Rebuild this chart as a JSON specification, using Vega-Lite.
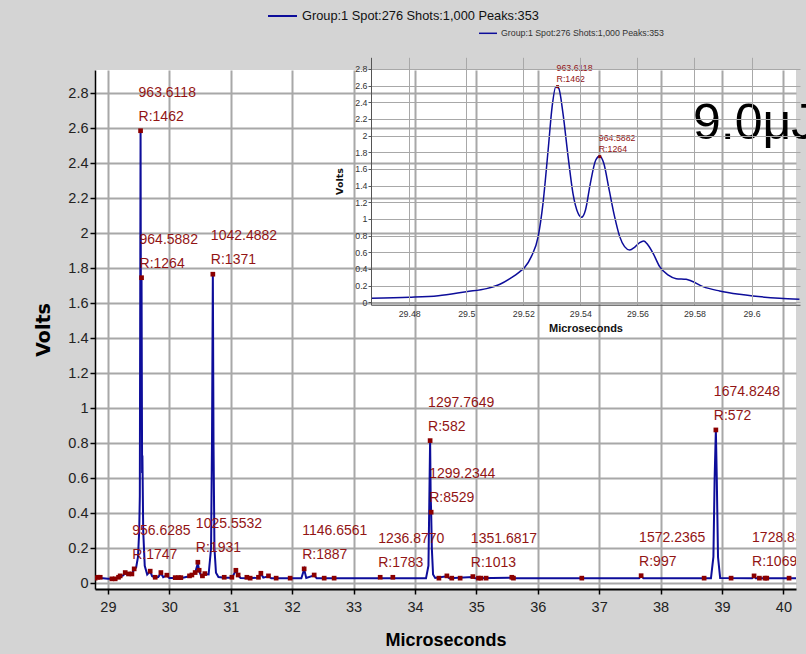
{
  "$schema": "https://vega.github.io/schema/vega-lite/v6.json",
  "width": 701,
  "height": 519,
  "autosize": {"type": "none"},
  "padding": {"left": 95, "top": 70, "right": 10, "bottom": 65},
  "background": "#d4d4d4",
  "config": {"view": {"stroke": null, "fill": "white"}, "font": "Liberation Sans"},
  "datasets": {
    "main": [
      {"t": 28.79, "v": 0.028}, {"t": 28.84, "v": 0.032}, {"t": 28.88, "v": 0.03}, {"t": 29.0, "v": 0.026},
      {"t": 29.1, "v": 0.026}, {"t": 29.17, "v": 0.032}, {"t": 29.2, "v": 0.04}, {"t": 29.25, "v": 0.045},
      {"t": 29.28, "v": 0.058}, {"t": 29.31, "v": 0.05}, {"t": 29.34, "v": 0.052}, {"t": 29.39, "v": 0.053},
      {"t": 29.43, "v": 0.08}, {"t": 29.46, "v": 0.09}, {"t": 29.49, "v": 0.15}, {"t": 29.51, "v": 0.3},
      {"t": 29.52, "v": 0.5}, {"t": 29.532, "v": 2.586}, {"t": 29.54, "v": 1.02}, {"t": 29.548, "v": 1.746},
      {"t": 29.557, "v": 0.63}, {"t": 29.562, "v": 0.73}, {"t": 29.575, "v": 0.3}, {"t": 29.6, "v": 0.1},
      {"t": 29.64, "v": 0.05}, {"t": 29.689, "v": 0.068}, {"t": 29.72, "v": 0.04}, {"t": 29.77, "v": 0.033},
      {"t": 29.82, "v": 0.035}, {"t": 29.863, "v": 0.058}, {"t": 29.9, "v": 0.035}, {"t": 29.96, "v": 0.045},
      {"t": 30.0, "v": 0.03}, {"t": 30.1, "v": 0.03}, {"t": 30.2, "v": 0.03}, {"t": 30.33, "v": 0.04},
      {"t": 30.37, "v": 0.046}, {"t": 30.42, "v": 0.058}, {"t": 30.465, "v": 0.115}, {"t": 30.486, "v": 0.07},
      {"t": 30.52, "v": 0.04}, {"t": 30.58, "v": 0.052}, {"t": 30.64, "v": 0.05}, {"t": 30.68, "v": 0.2},
      {"t": 30.695, "v": 0.8}, {"t": 30.709, "v": 1.766}, {"t": 30.72, "v": 0.8}, {"t": 30.735, "v": 0.2},
      {"t": 30.76, "v": 0.06}, {"t": 30.8, "v": 0.035}, {"t": 30.9, "v": 0.032}, {"t": 31.02, "v": 0.032},
      {"t": 31.084, "v": 0.072}, {"t": 31.121, "v": 0.045}, {"t": 31.16, "v": 0.03}, {"t": 31.3, "v": 0.028},
      {"t": 31.45, "v": 0.032}, {"t": 31.491, "v": 0.055}, {"t": 31.53, "v": 0.032}, {"t": 31.615, "v": 0.04},
      {"t": 31.66, "v": 0.028}, {"t": 32.15, "v": 0.028}, {"t": 32.196, "v": 0.08}, {"t": 32.23, "v": 0.03},
      {"t": 32.359, "v": 0.045}, {"t": 32.4, "v": 0.028}, {"t": 33.4, "v": 0.028}, {"t": 33.434, "v": 0.033},
      {"t": 33.47, "v": 0.028}, {"t": 34.18, "v": 0.028}, {"t": 34.22, "v": 0.1}, {"t": 34.235, "v": 0.5},
      {"t": 34.247, "v": 0.815}, {"t": 34.256, "v": 0.5}, {"t": 34.264, "v": 0.406}, {"t": 34.275, "v": 0.2},
      {"t": 34.295, "v": 0.05}, {"t": 34.33, "v": 0.03}, {"t": 34.52, "v": 0.04}, {"t": 34.56, "v": 0.028},
      {"t": 34.943, "v": 0.036}, {"t": 34.98, "v": 0.028}, {"t": 35.578, "v": 0.032}, {"t": 35.62, "v": 0.028},
      {"t": 37.65, "v": 0.028}, {"t": 37.683, "v": 0.042}, {"t": 37.72, "v": 0.028}, {"t": 38.82, "v": 0.028},
      {"t": 38.86, "v": 0.15}, {"t": 38.88, "v": 0.6}, {"t": 38.9, "v": 0.876}, {"t": 38.915, "v": 0.6},
      {"t": 38.935, "v": 0.15}, {"t": 38.97, "v": 0.03}, {"t": 39.49, "v": 0.028}, {"t": 39.522, "v": 0.04},
      {"t": 39.55, "v": 0.028}, {"t": 40.205, "v": 0.028}
    ],
    "peaks": [
      {"t": 28.793, "v": 0.029}, {"t": 28.837, "v": 0.034}, {"t": 28.875, "v": 0.034}, {"t": 29.065, "v": 0.025},
      {"t": 29.119, "v": 0.025}, {"t": 29.173, "v": 0.034}, {"t": 29.2, "v": 0.042}, {"t": 29.282, "v": 0.061},
      {"t": 29.336, "v": 0.053}, {"t": 29.391, "v": 0.053},
      {"t": 29.428, "v": 0.082, "mass": "956.6285", "res": "R:1747"},
      {"t": 29.532, "v": 2.586, "mass": "963.6118", "res": "R:1462"},
      {"t": 29.548, "v": 1.746, "mass": "964.5882", "res": "R:1264"},
      {"t": 29.689, "v": 0.069}, {"t": 29.77, "v": 0.034}, {"t": 29.863, "v": 0.061}, {"t": 29.96, "v": 0.046},
      {"t": 30.096, "v": 0.032}, {"t": 30.149, "v": 0.032}, {"t": 30.188, "v": 0.032}, {"t": 30.329, "v": 0.042},
      {"t": 30.368, "v": 0.047}, {"t": 30.421, "v": 0.061},
      {"t": 30.465, "v": 0.12, "mass": "1025.5532", "res": "R:1931"},
      {"t": 30.486, "v": 0.074}, {"t": 30.54, "v": 0.042}, {"t": 30.579, "v": 0.055},
      {"t": 30.709, "v": 1.766, "mass": "1042.4882", "res": "R:1371"},
      {"t": 30.894, "v": 0.034}, {"t": 31.019, "v": 0.034}, {"t": 31.084, "v": 0.074}, {"t": 31.121, "v": 0.047},
      {"t": 31.263, "v": 0.034}, {"t": 31.317, "v": 0.029}, {"t": 31.452, "v": 0.034}, {"t": 31.491, "v": 0.057},
      {"t": 31.615, "v": 0.042}, {"t": 31.74, "v": 0.029}, {"t": 31.968, "v": 0.029},
      {"t": 32.196, "v": 0.082, "mass": "1146.6561", "res": "R:1887"},
      {"t": 32.359, "v": 0.047}, {"t": 32.522, "v": 0.029}, {"t": 32.684, "v": 0.029},
      {"t": 33.434, "v": 0.034, "mass": "1236.8770", "res": "R:1783"},
      {"t": 33.64, "v": 0.034},
      {"t": 34.247, "v": 0.815, "mass": "1297.7649", "res": "R:582"},
      {"t": 34.264, "v": 0.406, "mass": "1299.2344", "res": "R:8529"},
      {"t": 34.39, "v": 0.029}, {"t": 34.52, "v": 0.042}, {"t": 34.6, "v": 0.029}, {"t": 34.736, "v": 0.029},
      {"t": 34.943, "v": 0.038, "mass": "1351.6817", "res": "R:1013"},
      {"t": 35.034, "v": 0.029}, {"t": 35.073, "v": 0.029}, {"t": 35.159, "v": 0.029}, {"t": 35.578, "v": 0.034},
      {"t": 35.604, "v": 0.029}, {"t": 36.717, "v": 0.029},
      {"t": 37.683, "v": 0.043, "mass": "1572.2365", "res": "R:997"},
      {"t": 38.709, "v": 0.029},
      {"t": 38.9, "v": 0.876, "mass": "1674.8248", "res": "R:572"},
      {"t": 39.148, "v": 0.029},
      {"t": 39.522, "v": 0.042, "mass": "1728.8335", "res": "R:1069"},
      {"t": 39.609, "v": 0.029}, {"t": 39.701, "v": 0.029}, {"t": 39.729, "v": 0.029}, {"t": 40.092, "v": 0.029}
    ],
    "inset": [
      {"t": 29.4668, "v": 0.048}, {"t": 29.48, "v": 0.06}, {"t": 29.4902, "v": 0.08}, {"t": 29.5, "v": 0.128},
      {"t": 29.5071, "v": 0.164}, {"t": 29.5118, "v": 0.216}, {"t": 29.5153, "v": 0.284}, {"t": 29.5188, "v": 0.368},
      {"t": 29.5205, "v": 0.42}, {"t": 29.5228, "v": 0.548}, {"t": 29.5252, "v": 0.788}, {"t": 29.5269, "v": 1.188},
      {"t": 29.5287, "v": 1.828}, {"t": 29.5301, "v": 2.348}, {"t": 29.5314, "v": 2.588}, {"t": 29.5324, "v": 2.568},
      {"t": 29.5339, "v": 2.268}, {"t": 29.5357, "v": 1.748}, {"t": 29.5374, "v": 1.308}, {"t": 29.5392, "v": 1.068},
      {"t": 29.5404, "v": 1.02}, {"t": 29.5418, "v": 1.108}, {"t": 29.5435, "v": 1.428}, {"t": 29.5454, "v": 1.708},
      {"t": 29.5468, "v": 1.756}, {"t": 29.5482, "v": 1.668}, {"t": 29.5501, "v": 1.348}, {"t": 29.552, "v": 1.028},
      {"t": 29.5538, "v": 0.788}, {"t": 29.5555, "v": 0.668}, {"t": 29.5573, "v": 0.628}, {"t": 29.559, "v": 0.66},
      {"t": 29.5608, "v": 0.716}, {"t": 29.5622, "v": 0.736}, {"t": 29.5637, "v": 0.688}, {"t": 29.5655, "v": 0.588},
      {"t": 29.5678, "v": 0.428}, {"t": 29.5707, "v": 0.328}, {"t": 29.5736, "v": 0.284}, {"t": 29.5771, "v": 0.276},
      {"t": 29.5789, "v": 0.256}, {"t": 29.583, "v": 0.188}, {"t": 29.5888, "v": 0.136}, {"t": 29.5958, "v": 0.096},
      {"t": 29.6005, "v": 0.076}, {"t": 29.6098, "v": 0.048}, {"t": 29.6168, "v": 0.036}
    ],
    "insetPeaks": [
      {"t": 29.532, "v": 2.588, "mass": "963.6118", "res": "R:1462"},
      {"t": 29.5468, "v": 1.748, "mass": "964.5882", "res": "R:1264"}
    ],
    "energy": [{"note": "9.0μJ"}]
  },
  "layer": [
    {
      "layer": [
        {
          "data": {"name": "main"},
          "mark": {"type": "line", "strokeWidth": 2, "clip": true},
          "encoding": {
            "x": {"field": "t", "type": "quantitative",
              "scale": {"domain": [28.79, 40.205], "nice": false, "zero": false},
              "axis": {"values": [29, 30, 31, 32, 33, 34, 35, 36, 37, 38, 39, 40], "format": "d", "tickCount": 40,
                "grid": true, "gridColor": "#a8a8a8", "gridWidth": 2,
                "domainColor": "#000", "domainWidth": 2, "tickColor": "#000", "tickWidth": 1.5, "tickSize": 5,
                "labelFont": "Liberation Sans", "labelFontSize": 14.5, "labelColor": "#222",
                "labelBaseline": "middle", "labelPadding": 13, "labelFlush": false, "labelOverlap": false,
                "title": "Microseconds", "titleFont": "Liberation Sans", "titleFontWeight": "bold",
                "titleFontSize": 18, "titleColor": "#000", "titleY": 51, "titleBaseline": "middle"}},
            "y": {"field": "v", "type": "quantitative",
              "scale": {"domain": [-0.033, 2.933], "nice": false, "zero": false},
              "axis": {"values": [0, 0.2, 0.4, 0.6, 0.8, 1, 1.2, 1.4, 1.6, 1.8, 2, 2.2, 2.4, 2.6, 2.8], "format": "~g", "tickCount": 40,
                "grid": true, "gridColor": "#a8a8a8", "gridWidth": 2,
                "domainColor": "#000", "domainWidth": 1.5, "tickColor": "#000", "tickWidth": 1.5, "tickSize": 5,
                "labelFont": "Liberation Sans", "labelFontSize": 14.5, "labelColor": "#222",
                "labelPadding": 2, "labelOverlap": false, "labelFlush": false,
                "title": "Volts", "titleFont": "DejaVu Sans", "titleFontWeight": "bold", "titleFontSize": 19,
                "titleColor": "#000", "titleX": -52, "titleY": 259.5, "titleAngle": 270,
                "titleAlign": "center", "titleBaseline": "middle"}},
            "color": {"datum": "Group:1 Spot:276 Shots:1,000 Peaks:353", "type": "nominal",
              "scale": {"range": ["#0d0d9a"]},
              "legend": {"orient": "none", "legendX": 172, "legendY": -69.5, "title": null,
                "symbolType": "stroke", "symbolSize": 841, "symbolStrokeWidth": 2, "padding": 0,
                "labelFont": "Liberation Sans", "labelFontSize": 12.8, "labelColor": "#111",
                "labelLimit": 500, "labelOffset": 4}}
          }
        },
        {
          "data": {"name": "peaks"},
          "mark": {"type": "point", "shape": "square", "filled": true, "size": 22, "color": "#8b0000", "opacity": 1, "clip": true},
          "encoding": {
            "x": {"field": "t", "type": "quantitative"},
            "y": {"field": "v", "type": "quantitative"}
          }
        },
        {
          "data": {"name": "peaks"},
          "transform": [{"filter": "datum.mass != null"}],
          "mark": {"type": "text", "align": "left", "baseline": "middle", "dx": -2, "dy": -38,
            "font": "Liberation Sans", "fontSize": 14, "color": "#921414", "clip": true},
          "encoding": {
            "x": {"field": "t", "type": "quantitative"},
            "y": {"field": "v", "type": "quantitative"},
            "text": {"field": "mass", "type": "nominal"}
          }
        },
        {
          "data": {"name": "peaks"},
          "transform": [{"filter": "datum.mass != null"}],
          "mark": {"type": "text", "align": "left", "baseline": "middle", "dx": -2, "dy": -14,
            "font": "Liberation Sans", "fontSize": 14, "color": "#921414", "clip": true},
          "encoding": {
            "x": {"field": "t", "type": "quantitative"},
            "y": {"field": "v", "type": "quantitative"},
            "text": {"field": "res", "type": "nominal"}
          }
        }
      ]
    },
    {
      "layer": [
        {
          "mark": {"type": "rect", "color": "#d4d4d4"},
          "encoding": {
            "x": {"datum": 29.4508, "type": "quantitative"},
            "x2": {"datum": 29.622},
            "y": {"datum": 3.39, "type": "quantitative"},
            "y2": {"datum": -0.4165}
          }
        },
        {
          "mark": {"type": "rect", "color": "#ffffff"},
          "encoding": {
            "x": {"datum": 29.4666, "type": "quantitative"},
            "x2": {"datum": 29.617},
            "y": {"datum": 2.94, "type": "quantitative"},
            "y2": {"datum": -0.03}
          }
        },
        {
          "data": {"name": "inset"},
          "mark": {"type": "line", "strokeWidth": 1.5, "interpolate": "monotone"},
          "encoding": {
            "x": {"field": "t", "type": "quantitative",
              "scale": {"domain": [29.4666, 29.617], "range": [276, 705], "nice": false, "zero": false},
              "axis": {"orient": "top", "offset": -234.8, "zindex": 1, "tickCount": 40,
                "values": [29.48, 29.5, 29.52, 29.54, 29.56, 29.58, 29.6], "format": ".2~f",
                "grid": true, "gridColor": "#a8a8a8", "gridWidth": 1,
                "domainColor": "#555", "domainWidth": 1, "ticks": false,
                "labelFont": "Liberation Sans", "labelFontSize": 8.8, "labelColor": "#333",
                "labelBaseline": "middle", "labelPadding": -8.5, "labelFlush": false, "labelOverlap": false,
                "title": "Microseconds", "titleFont": "Liberation Sans", "titleFontWeight": "bold",
                "titleFontSize": 11, "titleColor": "#111", "titleY": 23.5, "titleBaseline": "middle"}},
            "y": {"field": "v", "type": "quantitative",
              "scale": {"domain": [-0.03, 2.94], "range": [234.8, -12.7], "nice": false, "zero": false},
              "axis": {"orient": "left", "offset": -276, "zindex": 1, "tickCount": 40,
                "values": [0, 0.2, 0.4, 0.6, 0.8, 1, 1.2, 1.4, 1.6, 1.8, 2, 2.2, 2.4, 2.6, 2.8], "format": "~g",
                "grid": true, "gridColor": "#a8a8a8", "gridWidth": 1,
                "domainColor": "#555", "domainWidth": 1, "tickColor": "#555", "tickSize": 3,
                "labelFont": "Liberation Sans", "labelFontSize": 8.8, "labelColor": "#333",
                "labelPadding": 1, "labelOverlap": false, "labelFlush": false,
                "title": "Volts", "titleFont": "DejaVu Sans", "titleFontWeight": "bold", "titleFontSize": 9.5,
                "titleColor": "#111", "titleX": -31.7, "titleY": 111, "titleAngle": 270,
                "titleAlign": "center", "titleBaseline": "middle"}},
            "color": {"datum": "Group:1 Spot:276 Shots:1,000 Peaks:353", "type": "nominal",
              "scale": {"range": ["#0d0d9a"]},
              "legend": {"orient": "none", "legendX": 383, "legendY": -46.7, "title": null,
                "symbolType": "stroke", "symbolSize": 324, "symbolStrokeWidth": 1.5, "padding": 0,
                "labelFont": "Liberation Sans", "labelFontSize": 8.8, "labelColor": "#333",
                "labelLimit": 500, "labelOffset": 3}}
          }
        },
        {
          "data": {"name": "insetPeaks"},
          "mark": {"type": "point", "shape": "square", "filled": true, "size": 9, "color": "#8b0000", "opacity": 1},
          "encoding": {
            "x": {"field": "t", "type": "quantitative"},
            "y": {"field": "v", "type": "quantitative"}
          }
        },
        {
          "data": {"name": "insetPeaks"},
          "mark": {"type": "text", "align": "left", "baseline": "middle", "dx": -1, "dy": -19,
            "font": "Liberation Sans", "fontSize": 8.8, "color": "#921414"},
          "encoding": {
            "x": {"field": "t", "type": "quantitative"},
            "y": {"field": "v", "type": "quantitative"},
            "text": {"field": "mass", "type": "nominal"}
          }
        },
        {
          "data": {"name": "insetPeaks"},
          "mark": {"type": "text", "align": "left", "baseline": "middle", "dx": -1, "dy": -7.4,
            "font": "Liberation Sans", "fontSize": 8.8, "color": "#921414"},
          "encoding": {
            "x": {"field": "t", "type": "quantitative"},
            "y": {"field": "v", "type": "quantitative"},
            "text": {"field": "res", "type": "nominal"}
          }
        },
        {
          "data": {"name": "energy"},
          "mark": {"type": "text", "align": "left", "baseline": "alphabetic",
            "font": "Liberation Sans", "fontSize": 50, "color": "#000"},
          "encoding": {
            "x": {"datum": 29.5795, "type": "quantitative"},
            "y": {"datum": 1.96, "type": "quantitative"},
            "text": {"field": "note", "type": "nominal"}
          }
        }
      ]
    }
  ],
  "resolve": {
    "scale": {"x": "independent", "y": "independent", "color": "independent"},
    "axis": {"x": "independent", "y": "independent"},
    "legend": {"color": "independent"}
  }
}
